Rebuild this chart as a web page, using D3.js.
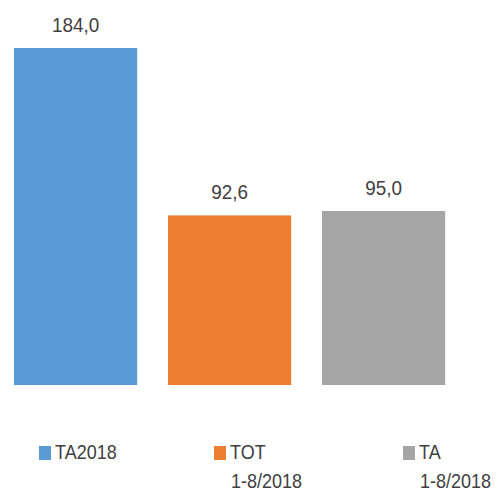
<!DOCTYPE html>
<html>
<head>
<meta charset="utf-8">
<script src="https://cdn.jsdelivr.net/npm/d3@7"></script>
<style>
  body { margin: 0; background: #fff; }
  svg { display: block; }
  text { font-family: "Liberation Sans", sans-serif; fill: #404040; }
</style>
</head>
<body>
<div id="chart"></div>
<script>
// chart data
const categories = ["TA2018", "TOT 1-8/2018", "TA 1-8/2018"];
const legendLines = [["TA2018"], ["TOT", "1-8/2018"], ["TA", "1-8/2018"]];
const values = [184.0, 92.6, 95.0];
const colors = ["#5b9bd5", "#ed7d31", "#a5a5a5"];

const width = 504, height = 491;
const squeeze = 0.9; // the original font is narrower than Liberation Sans

const svg = d3.select("#chart").append("svg")
    .attr("width", width)
    .attr("height", height);

// band scale so bars sit at ~14..445
const x = d3.scaleBand()
    .domain(categories)
    .range([-1.4, 460.6])
    .paddingInner(0.2)
    .paddingOuter(0.1);

const y = d3.scaleLinear()
    .domain([0, 200])
    .range([385, 18.7]);

const fmt = v => d3.format(".1f")(v).replace(".", ",");

// bars
svg.selectAll("rect.bar")
    .data(categories)
    .join("rect")
    .attr("class", "bar")
    .attr("x", d => x(d))
    .attr("width", x.bandwidth())
    .attr("y", (d, i) => y(values[i]))
    .attr("height", (d, i) => y(0) - y(values[i]))
    .attr("fill", (d, i) => colors[i]);

// value labels
svg.selectAll("g.val")
    .data(categories)
    .join("g")
    .attr("class", "val")
    .attr("transform", (d, i) =>
        `translate(${x(d) + x.bandwidth() / 2},${y(values[i]) - 16}) scale(${squeeze},1)`)
    .append("text")
    .attr("text-anchor", "middle")
    .style("font-size", "21px")
    .text((d, i) => fmt(values[i]));

// legend
const legendX = [39, 214, 403];
const legend = svg.selectAll("g.leg")
    .data(categories)
    .join("g")
    .attr("class", "leg")
    .attr("transform", (d, i) => `translate(${legendX[i]},446)`);

legend.append("rect")
    .attr("width", 12)
    .attr("height", 14)
    .attr("fill", (d, i) => colors[i]);

legend.each(function(d, i) {
    const t = d3.select(this).append("g")
        .attr("transform", `translate(16,13) scale(${squeeze},1)`)
        .append("text")
        .style("font-size", "20px");
    legendLines[i].forEach((line, j) => {
        t.append("tspan")
            .attr("x", j === 0 ? 0 : 1)
            .attr("dy", j === 0 ? 0 : 29)
            .text(line);
    });
});
</script>
</body>
</html>
